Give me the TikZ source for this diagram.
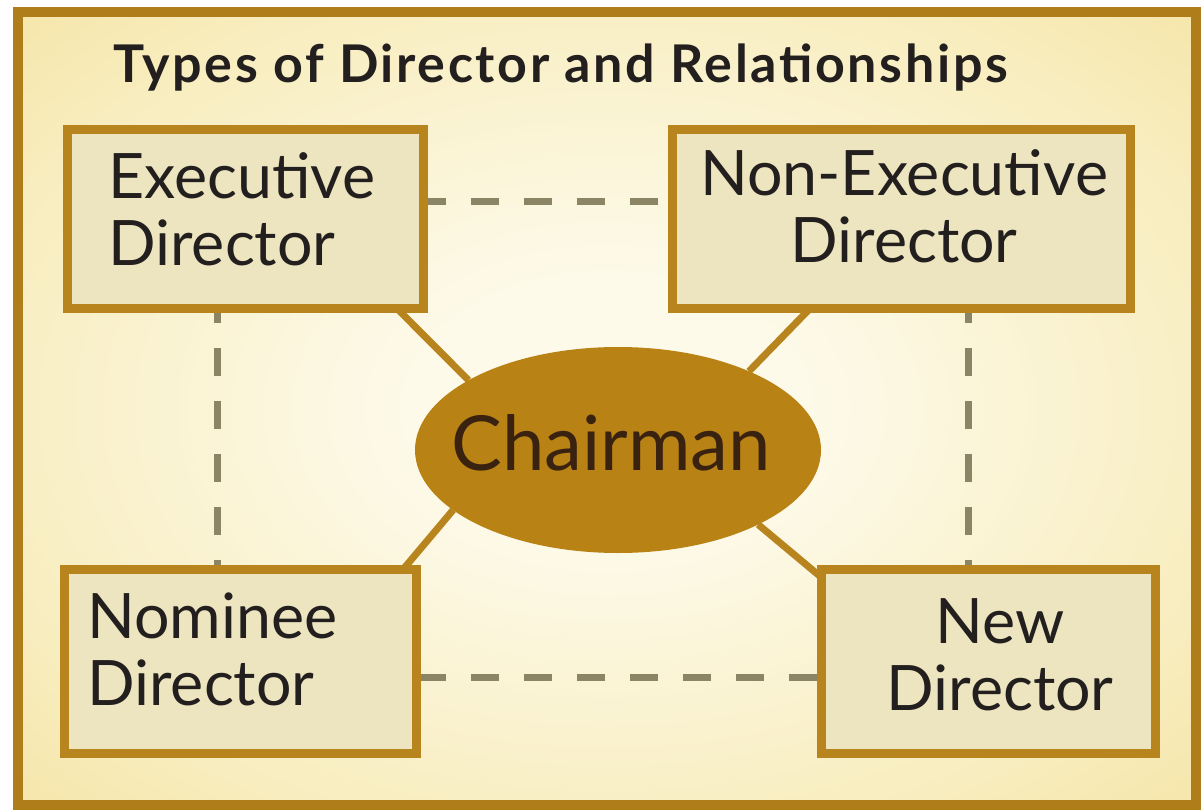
\documentclass[tikz,border=0pt]{standalone}
\usepackage{fontspec}
\setmainfont{Lato}
\usetikzlibrary{calc,shapes.geometric}
\definecolor{framecol}{HTML}{B07D1B}
\definecolor{boxline}{HTML}{B8841E}
\definecolor{boxfill}{HTML}{EDE5C0}
\definecolor{ellfill}{HTML}{B98214}
\definecolor{dashcol}{HTML}{8B8565}
\definecolor{txtcol}{HTML}{231F1E}
\definecolor{chairtxt}{HTML}{3A2210}
\definecolor{bginner}{HTML}{FDFAEA}
\definecolor{bgmid}{HTML}{F8EDBE}
\definecolor{bgouter}{HTML}{F1D886}
\pgfdeclareradialshading{bgshade}{\pgfpoint{0bp}{0bp}}{color(0bp)=(bginner); color(8bp)=(bginner); color(28bp)=(bgmid); color(50bp)=(bgouter)}
\pgfdeclarelayer{bg}
\pgfsetlayers{bg,main}
\begin{document}
\begin{tikzpicture}[x=0.75pt,y=-0.75pt,
  dirbox/.style={draw=boxline, fill=boxfill, line width=6.75pt, rectangle, inner sep=0pt, outer sep=0pt},
  chairell/.style={ellipse, fill=ellfill, inner sep=0pt, outer sep=0pt, minimum width=304.5pt, minimum height=154.5pt},
  boxtext/.style={font=\fontsize{47}{50}\selectfont, text=txtcol, inner sep=0pt},
  solidlink/.style={draw=boxline, line width=5.25pt},
  dashlink/.style={draw=dashcol, line width=5.25pt, dash pattern=on 21pt off 18.75pt}
]
\useasboundingbox (0,0) rectangle (1201,809);
\begin{pgfonlayer}{bg}
  \fill[white] (0,0) rectangle (1201,809);
  \shade[shading=bgshade] (18,12.5) rectangle (1196,804.5);
\end{pgfonlayer}
\draw[framecol, line width=7.5pt] (18,12.5) rectangle (1196,804.5);

\node[anchor=base west, font=\bfseries\fontsize{39}{42}\selectfont\addfontfeature{LetterSpace=5}, text=txtcol, inner sep=0pt] (title) at (113,83) {Types of Director and Relationships};

\node[dirbox, minimum width=267pt, minimum height=134.25pt] (exec) at (245.5,219) {};
\node[dirbox, minimum width=343.5pt, minimum height=134.25pt] (nonexec) at (901.5,219) {};
\node[dirbox, minimum width=264pt, minimum height=138pt] (nominee) at (240.5,661.5) {};
\node[dirbox, minimum width=250.5pt, minimum height=138pt] (new) at (988.5,661.5) {};
\node[chairell] (chair) at (618,450) {};

\node[boxtext, align=left, anchor=base west] (exectxt) at (108,265) {Executive\\Director};
\node[boxtext, align=center, anchor=base] (nonexectxt) at (904,262) {Non-Executive\\Director};
\node[boxtext, align=left, anchor=base west] (nomtxt) at (87,705) {Nominee\\Director};
\node[boxtext, align=center, anchor=base] (newtxt) at (1000,710) {New\\Director};
\node[font=\fontsize{57}{60}\selectfont, text=chairtxt, inner sep=0pt, anchor=base] (chairtxt) at (611,470) {Chairman};

\begin{pgfonlayer}{bg}
  \draw[solidlink] ($(exec.south east)+(-26.5,0)$) -- (chair.155);
  \draw[solidlink] ($(nonexec.south west)+(137.5,0)$) -- (chair.31);
  \draw[solidlink] (chair.200) -- ($(nominee.north east)+(-13.5,0)$);
  \draw[solidlink] (chair.332) -- ($(new.north west)+(0,8)$);
  \draw[dashlink, dash phase=4.1pt] ($(exec.north east)+(0,72.5)$) -- ($(nonexec.north west)+(0,72.5)$);
  \draw[dashlink, dash phase=38.6pt] ($(nominee.north east)+(0,107.5)$) -- ($(new.north west)+(0,107.5)$);
  \draw[dashlink, dash phase=10.1pt] ($(exec.south west)+(149.5,0)$) -- ($(nominee.north west)+(152.5,0)$);
  \draw[dashlink, dash phase=10.1pt] ($(nonexec.south west)+(295.5,0)$) -- ($(new.north west)+(146.5,0)$);
\end{pgfonlayer}
\end{tikzpicture}
\end{document}
